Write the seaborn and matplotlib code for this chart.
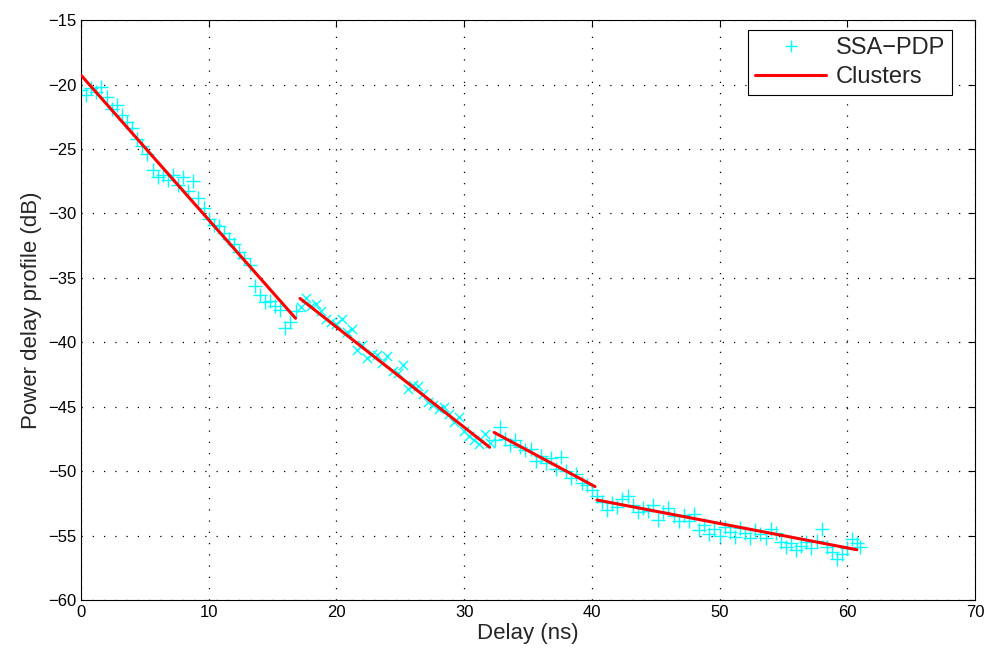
import numpy as np
import pandas as pd
import seaborn as sns
import matplotlib.pyplot as plt
from matplotlib.lines import Line2D

# SSA-PDP samples (delay in ns, power in dB)
delay_c1 = [0.0, 0.4, 0.8, 1.2, 1.6, 2.0, 2.4, 2.8, 3.2, 3.6, 4.0, 4.4, 4.8, 5.2,
            5.6, 6.0, 6.4, 6.8, 7.2, 7.6, 8.0, 8.4, 8.8, 9.2, 9.6, 10.0, 10.4,
            10.8, 11.2, 11.6, 12.0, 12.4, 12.8, 13.2, 13.6, 14.0, 14.4, 14.8,
            15.2, 15.6, 16.0, 16.4, 16.8]
pdp_c1 = [-20.4, -20.8, -20.3, -20.6, -20.2, -21.0, -21.9, -21.6, -22.4, -22.9,
          -23.4, -24.2, -24.8, -25.4, -26.6, -27.2, -27.0, -27.4, -27.0, -27.8,
          -27.2, -28.3, -27.5, -28.8, -29.6, -30.4, -30.9, -31.0, -31.5, -32.0,
          -32.4, -33.0, -33.5, -34.0, -35.6, -36.3, -36.9, -36.8, -37.2, -37.5,
          -38.9, -38.4, -37.6]

delay_c2 = [17.2, 17.6, 18.0, 18.4, 18.8, 19.2, 19.6, 20.0, 20.4, 20.8, 21.2,
            21.6, 22.0, 22.4, 22.8, 23.2, 23.6, 24.0, 24.4, 24.8, 25.2, 25.6,
            26.0, 26.4, 26.8, 27.2, 27.6, 28.0, 28.4, 28.8, 29.2, 29.6, 30.0,
            30.4, 30.8, 31.2, 31.6, 32.0]
pdp_c2 = [-37.3, -36.6, -37.2, -37.0, -37.6, -38.2, -38.4, -38.6, -38.2, -39.2,
          -39.0, -40.6, -40.2, -41.2, -40.9, -41.0, -41.6, -41.1, -42.2, -42.4,
          -41.8, -43.6, -43.3, -43.4, -44.0, -44.6, -44.9, -45.2, -45.0, -45.6,
          -46.2, -45.8, -46.9, -47.3, -47.6, -47.9, -47.1, -47.8]

delay_c3 = [32.4, 32.8, 33.2, 33.6, 34.0, 34.4, 34.8, 35.2, 35.6, 36.0, 36.4,
            36.8, 37.2, 37.6, 38.0, 38.4, 38.8, 39.2, 39.6, 40.0, 40.4]
pdp_c3 = [-47.6, -46.6, -47.5, -48.0, -47.6, -48.1, -48.4, -48.3, -49.2, -48.8,
          -49.4, -49.0, -49.8, -48.9, -50.0, -50.5, -50.2, -50.9, -51.1, -51.5,
          -51.9]

delay_c4 = [40.8, 41.2, 41.6, 42.0, 42.4, 42.8, 43.2, 43.6, 44.0, 44.4, 44.8,
            45.2, 45.6, 46.0, 46.4, 46.8, 47.2, 47.6, 48.0, 48.4, 48.8, 49.2,
            49.6, 50.0, 50.4, 50.8, 51.2, 51.6, 52.0, 52.4, 52.8, 53.2, 53.6,
            54.0, 54.4, 54.8, 55.2, 55.6, 56.0, 56.4, 56.8, 57.2, 57.6, 58.0,
            58.4, 58.8, 59.2, 59.6, 60.0, 60.4, 60.8, 61.0]
pdp_c4 = [-52.4, -53.0, -52.5, -52.8, -52.2, -51.9, -52.6, -53.2, -52.9, -53.1,
          -52.6, -53.8, -53.2, -52.9, -53.5, -53.9, -53.4, -53.9, -53.3, -54.6,
          -54.2, -54.9, -54.5, -55.0, -54.3, -54.7, -55.1, -54.4, -54.8, -55.2,
          -54.6, -54.9, -55.2, -54.5, -54.8, -55.5, -55.9, -55.6, -56.1, -55.8,
          -55.5, -56.0, -55.4, -54.5, -55.9, -56.3, -56.8, -56.4, -56.0, -55.3,
          -55.6, -55.9]

# fitted cluster lines (start / end)
cluster_ids = [1, 1, 2, 2, 3, 3, 4, 4]
cluster_delay = [0.0, 16.8, 17.15, 32.0, 32.35, 40.25, 40.4, 60.75]
cluster_pdp = [-19.27, -38.14, -36.6, -48.15, -47.0, -51.2, -52.24, -56.1]

plus_df = pd.DataFrame({"Delay": delay_c1 + delay_c3 + delay_c4,
                        "PDP": pdp_c1 + pdp_c3 + pdp_c4})
cross_df = pd.DataFrame({"Delay": delay_c2, "PDP": pdp_c2})
line_df = pd.DataFrame({"Delay": cluster_delay, "PDP": cluster_pdp,
                        "Cluster": cluster_ids})

sns.set_theme(style="white")
plt.rcParams["font.family"] = ["Liberation Sans", "DejaVu Sans"]

fig = plt.figure(figsize=(9.84, 6.56), dpi=100)
ax = fig.add_axes([0.0823, 0.0854, 0.9085, 0.884])

sns.scatterplot(data=plus_df, x="Delay", y="PDP", marker="+", color="#00ffff",
                s=90, linewidth=1.0, ax=ax, zorder=2)
sns.scatterplot(data=cross_df, x="Delay", y="PDP", marker="x", color="#00ffff",
                s=45, linewidth=1.0, ax=ax, zorder=2)
sns.lineplot(data=line_df, x="Delay", y="PDP", units="Cluster", estimator=None,
             color="red", linewidth=2.2, ax=ax, zorder=3)

ax.set_xlim(0, 70)
ax.set_ylim(-60, -15)
ax.set_xticks(range(0, 71, 10))
ax.set_yticks(range(-60, -14, 5))
ax.grid(True, color="black", linestyle=(0, (1, 8)), linewidth=0.9)
ax.tick_params(direction="in", length=5, width=0.8, labelsize=12,
               top=True, right=True, colors="black")
for s in ax.spines.values():
    s.set_color("black")
    s.set_linewidth(0.8)

ax.set_xlabel("Delay (ns)", fontsize=16, labelpad=2)
ax.set_ylabel("Power delay profile (dB)", fontsize=16, labelpad=4)

handles = [Line2D([], [], marker="+", color="#00ffff", linestyle="none",
                  markersize=9, markeredgewidth=1.0),
           Line2D([], [], color="red", linewidth=2.2)]
leg = ax.legend(handles, ["SSA\u2212PDP", "Clusters"], loc="upper right",
                bbox_to_anchor=(0.9875, 1.003), fontsize=17, frameon=True,
                fancybox=False, framealpha=1, edgecolor="black",
                handlelength=3.0, handletextpad=0.4, borderpad=0.3,
                labelspacing=0.3)
leg.get_frame().set_linewidth(0.8)

fig.savefig("out.png", dpi=100)
